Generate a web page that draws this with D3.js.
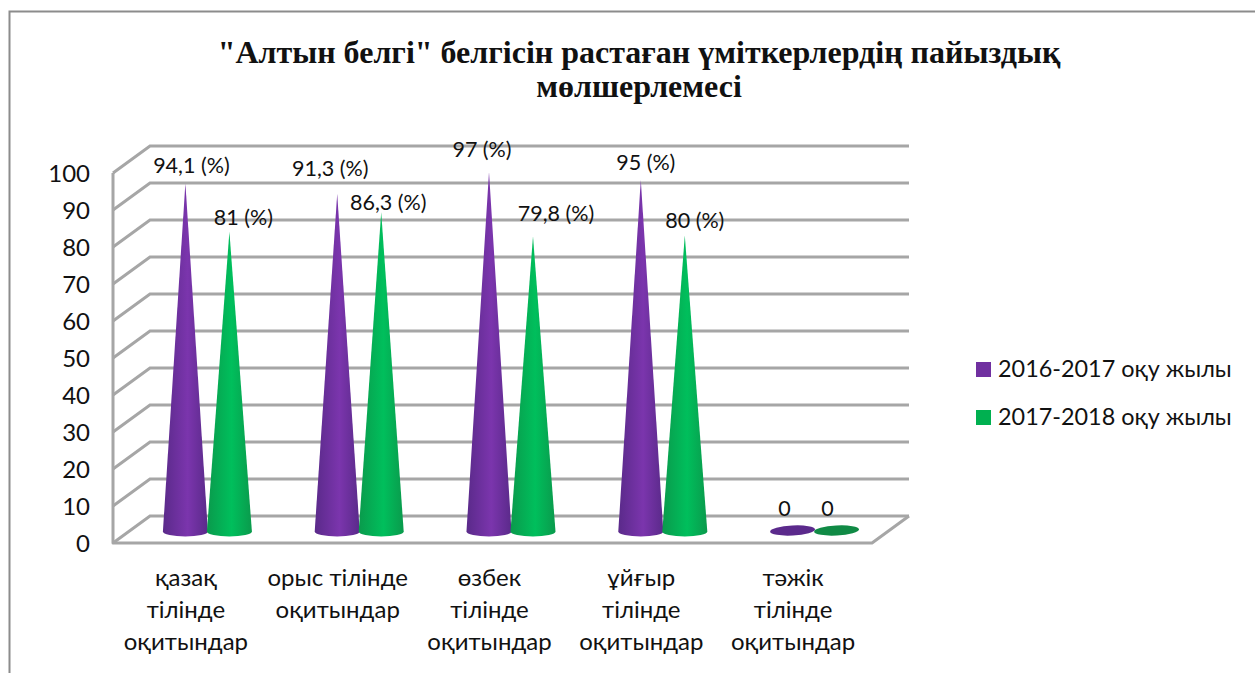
<!DOCTYPE html>
<html><head><meta charset="utf-8">
<script src="https://cdnjs.cloudflare.com/ajax/libs/d3/7.8.5/d3.min.js"></script>
<style>html,body{margin:0;background:#fff}svg{display:block}text{font-family:Lato,"Open Sans",sans-serif;fill:#111}</style>
</head><body><svg id="c" width="1255" height="673"></svg>
<script>
const titleLines=['"Алтын белгі" белгісін растаған үміткерлердің пайыздық','мөлшерлемесі'];
const categories=[['қазақ','тілінде','оқитындар'],['орыс тілінде','оқитындар'],['өзбек','тілінде','оқитындар'],['ұйғыр','тілінде','оқитындар'],['тәжік','тілінде','оқитындар']];
const seriesNames=['2016-2017 оқу жылы','2017-2018 оқу жылы'];
const values2016=[94.1,91.3,97,95,0];
const values2017=[81,86.3,79.8,80,0];
const labels2016=['94,1 (%)','91,3 (%)','97 (%)','95 (%)','0'];
const labels2017=['81 (%)','86,3 (%)','79,8 (%)','80 (%)','0'];
const ticks=[0,10,20,30,40,50,60,70,80,90,100];
// hand-placed data label offsets, relative to each cone tip
const labelShift2016=[[6,-10],[-7,-18],[-7,-16],[5,-10],[-8,0]];
const labelShift2017=[[14,-7],[7,-2],[23,-15],[10,-8],[-9,0]];

const svg=d3.select('#c');
const defs=svg.append('defs');
function grad(id,e,m){const g=defs.append('linearGradient').attr('id',id).attr('x1',0).attr('x2',1).attr('y1',0).attr('y2',0);
 g.append('stop').attr('offset','0').attr('stop-color',e);g.append('stop').attr('offset','.55').attr('stop-color',m);g.append('stop').attr('offset','1').attr('stop-color',e);}
grad('gp','#5a2a8a','#7b35ad');grad('gg','#0a9a4c','#00bf5c');
const depth={x:37,y:-27};
const y=d3.scaleLinear().domain([0,100]).range([543,173]);
const x=d3.scaleBand().domain(d3.range(5)).range([113,872]);
const inner=d3.scaleBand().domain([0,1]).range([0,88]);
const grey='#a6a6a6';
svg.append('path').attr('d','M9.5,673V11.5H1255').attr('fill','none').attr('stroke','#8c8c8c').attr('stroke-width',2);
const g=svg.append('g').attr('fill','none').attr('stroke',grey).attr('stroke-width',3);
ticks.forEach(t=>{
 g.append('path').attr('d',`M${x.range()[0]},${y(t)}l${depth.x},${depth.y}H${x.range()[1]+depth.x}`);
});
g.append('path').attr('d',`M${x.range()[0]},${y(100)}V${y(0)}H${x.range()[1]}l${depth.x},${depth.y}`).attr('stroke-linejoin','round');
svg.append('g').selectAll('text').data(ticks).join('text').attr('x',90).attr('y',d=>y(d)+9).attr('text-anchor','end').attr('font-size',24).text(d=>d);
const coneX=(i,s)=>x(i)+x.bandwidth()/2+depth.x/2-44+inner(s)+inner.bandwidth()/2;
const baseY=y(0)+depth.y/2+2;
const tipY=v=>y(v)+depth.y/2+2;
const cone=(vals,s,fill,zero)=>{
 vals.forEach((v,i)=>{
  const cx=coneX(i,s), rx=22.5, ry=5;
  if(v===0){
   svg.append('ellipse').attr('cx',cx).attr('cy',baseY-1).attr('rx',rx).attr('ry',5).attr('fill',zero).attr('transform',`rotate(-3 ${cx} ${baseY-1})`);
  } else {
   svg.append('path').attr('d',`M${cx},${tipY(v)}L${cx+rx},${baseY}A${rx},${ry} 0 0 1 ${cx-rx},${baseY}Z`).attr('fill',`url(#${fill})`);
  }
 });
};
cone(values2016,0,'gp','#5b2a8c');
cone(values2017,1,'gg','#108a45');
const lab=(vals,labels,shift,s)=>vals.forEach((v,i)=>{
  svg.append('text').attr('x',coneX(i,s)+shift[i][0]).attr('y',v===0?516:tipY(v)+shift[i][1]).attr('text-anchor','middle').attr('font-size',21.5).text(labels[i]);
});
lab(values2016,labels2016,labelShift2016,0);lab(values2017,labels2017,labelShift2017,1);
categories.forEach((c,i)=>{
 const t=svg.append('text').attr('text-anchor','middle').attr('font-size',24);
 c.forEach((l,j)=>t.append('tspan').attr('x',x(i)+x.bandwidth()/2-3).attr('y',586+j*32).text(l));
});
titleLines.forEach((l,i)=>svg.append('text').attr('x',639).attr('y',63+i*34).attr('text-anchor','middle').attr('font-size',32).attr('font-weight','bold').style('font-family','"Liberation Serif",serif').text(l));
seriesNames.forEach((n,i)=>{
 const ly=362+i*48;
 svg.append('rect').attr('x',976).attr('y',ly).attr('width',15).attr('height',15).attr('fill',i?'#00b050':'#7030a0');
 svg.append('text').attr('x',998).attr('y',ly+15).attr('font-size',23.4).text(n);
});
</script></body></html>
